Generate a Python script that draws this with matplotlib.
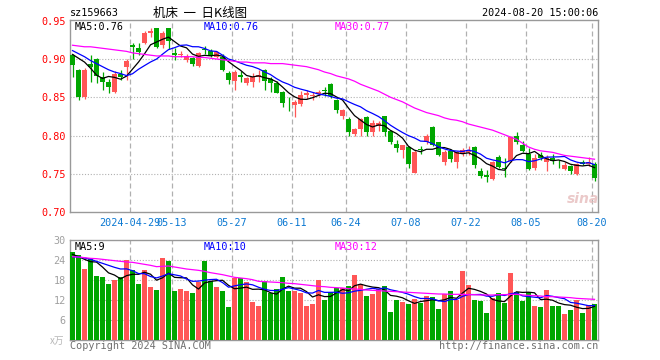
import matplotlib
matplotlib.use('Agg')
import matplotlib.pyplot as plt
import numpy as np
import pandas as pd

# ---------------- data ----------------
tick_idx = [10, 17, 27, 37, 46, 56, 66, 76, 87]
tick_labels = ['2024-04-29', '05-13', '05-27', '06-11', '06-24', '07-08', '07-22', '08-05', '08-20']

opens = [0.905, 0.885, 0.850, 0.893, 0.900, 0.877, 0.870, 0.857, 0.880, 0.890,
         0.918, 0.915, 0.921, 0.934, 0.940, 0.918, 0.940, 0.908, 0.905, 0.899,
         0.901, 0.891, 0.913, 0.911, 0.903, 0.903, 0.882, 0.8715, 0.879, 0.869,
         0.870, 0.876, 0.886, 0.874, 0.869, 0.857, 0.843, 0.840, 0.841, 0.853,
         0.851, 0.854, 0.860, 0.867, 0.847, 0.825, 0.821, 0.802, 0.809, 0.824,
         0.804, 0.813, 0.825, 0.806, 0.789, 0.781, 0.785, 0.751, 0.783, 0.791,
         0.811, 0.791, 0.765, 0.780, 0.765, 0.776, 0.778, 0.785, 0.753, 0.748,
         0.743, 0.772, 0.758, 0.767, 0.800, 0.788, 0.776, 0.757, 0.775, 0.765,
         0.771, 0.762, 0.756, 0.760, 0.750, 0.765, 0.763, 0.763]
highs = [0.907, 0.887, 0.888, 0.905, 0.901, 0.883, 0.874, 0.884, 0.885, 0.900,
         0.921, 0.921, 0.936, 0.941, 0.941, 0.936, 0.941, 0.914, 0.911, 0.906,
         0.902, 0.909, 0.917, 0.913, 0.911, 0.906, 0.884, 0.885, 0.884, 0.877,
         0.882, 0.886, 0.887, 0.876, 0.871, 0.858, 0.850, 0.846, 0.858, 0.859,
         0.857, 0.860, 0.864, 0.868, 0.848, 0.835, 0.824, 0.810, 0.823, 0.826,
         0.820, 0.819, 0.826, 0.807, 0.794, 0.788, 0.786, 0.781, 0.786, 0.802,
         0.812, 0.792, 0.781, 0.783, 0.780, 0.784, 0.786, 0.786, 0.757, 0.755,
         0.767, 0.774, 0.770, 0.800, 0.804, 0.793, 0.784, 0.776, 0.778, 0.774,
         0.776, 0.768, 0.765, 0.762, 0.764, 0.768, 0.772, 0.765]
lows = [0.877, 0.847, 0.848, 0.870, 0.868, 0.860, 0.856, 0.855, 0.872, 0.873,
        0.900, 0.905, 0.919, 0.929, 0.914, 0.915, 0.913, 0.899, 0.902, 0.896,
        0.891, 0.889, 0.907, 0.902, 0.901, 0.884, 0.867, 0.859, 0.870, 0.866,
        0.864, 0.870, 0.860, 0.857, 0.855, 0.837, 0.832, 0.824, 0.838, 0.848,
        0.846, 0.852, 0.852, 0.849, 0.830, 0.822, 0.800, 0.799, 0.799, 0.800,
        0.800, 0.806, 0.800, 0.789, 0.779, 0.770, 0.758, 0.751, 0.776, 0.789,
        0.786, 0.773, 0.762, 0.766, 0.758, 0.773, 0.775, 0.757, 0.745, 0.739,
        0.742, 0.757, 0.746, 0.766, 0.789, 0.778, 0.755, 0.755, 0.768, 0.753,
        0.763, 0.757, 0.755, 0.750, 0.748, 0.762, 0.760, 0.741]
closes = [0.892, 0.850, 0.886, 0.889, 0.878, 0.870, 0.863, 0.880, 0.877, 0.898,
          0.916, 0.909, 0.934, 0.936, 0.916, 0.934, 0.923, 0.905, 0.907, 0.904,
          0.893, 0.908, 0.912, 0.904, 0.909, 0.8855, 0.872, 0.883, 0.877, 0.875,
          0.876, 0.879, 0.871, 0.869, 0.856, 0.842, 0.842, 0.844, 0.853, 0.855,
          0.853, 0.857, 0.858, 0.851, 0.833, 0.833, 0.804, 0.809, 0.822, 0.804,
          0.817, 0.817, 0.804, 0.791, 0.784, 0.787, 0.763, 0.779, 0.781, 0.800,
          0.787, 0.775, 0.778, 0.769, 0.778, 0.781, 0.781, 0.761, 0.747, 0.746,
          0.765, 0.759, 0.756, 0.798, 0.791, 0.780, 0.756, 0.771, 0.771, 0.770,
          0.767, 0.761, 0.761, 0.753, 0.763, 0.763, 0.766, 0.745]
volumes = [26.4, 25.5, 21.3, 24.5, 19.2, 18.9, 16.8, 18.0, 18.8, 24.0,
           21.0, 16.8, 21.0, 15.9, 15.0, 24.6, 23.8, 14.7, 15.3, 14.8,
           14.1, 17.5, 23.8, 17.7, 15.9, 14.7, 9.9, 18.7, 18.6, 17.4,
           11.4, 10.2, 17.7, 14.2, 15.3, 18.9, 14.7, 14.7, 14.1, 10.2,
           10.8, 18.0, 12.0, 14.3, 15.7, 15.7, 16.2, 19.5, 16.7, 13.2,
           13.8, 15.3, 16.2, 8.4, 12.0, 11.4, 10.8, 12.3, 11.2, 13.2,
           12.9, 9.3, 13.7, 14.7, 12.0, 20.7, 16.5, 12.0, 11.7, 8.1,
           12.6, 14.1, 11.1, 20.1, 14.4, 11.7, 14.4, 10.2, 9.9, 15.0,
           10.2, 10.2, 7.8, 9.0, 12.0, 8.1, 10.5, 10.8]
ma30_price = [0.918, 0.917, 0.916, 0.916, 0.915, 0.914, 0.913, 0.912, 0.911, 0.910,
              0.908, 0.907, 0.906, 0.905, 0.904, 0.904, 0.904, 0.903, 0.903, 0.903,
              0.903, 0.902, 0.902, 0.901, 0.900, 0.899, 0.898, 0.897, 0.896, 0.896,
              0.895, 0.895, 0.895, 0.894, 0.894, 0.894, 0.893, 0.892, 0.891, 0.890,
              0.888, 0.886, 0.883, 0.881, 0.878, 0.876, 0.874, 0.871, 0.867, 0.864,
              0.861, 0.858, 0.854, 0.850, 0.847, 0.844, 0.840, 0.836, 0.833, 0.830,
              0.828, 0.826, 0.823, 0.821, 0.820, 0.818, 0.815, 0.813, 0.811, 0.809,
              0.807, 0.804, 0.801, 0.798, 0.795, 0.790, 0.785, 0.782, 0.780, 0.779,
              0.778, 0.776, 0.774, 0.773, 0.772, 0.771, 0.770, 0.769]
ma30_vol = [25.0, 24.9, 24.7, 24.5, 24.4, 24.2, 24.0, 23.8, 23.6, 23.4,
            23.3, 23.0, 22.7, 22.4, 22.0, 22.1, 22.2, 21.9, 21.6, 21.3,
            21.1, 20.9, 20.6, 20.2, 19.9, 19.6, 19.2, 18.8, 18.6, 18.4,
            18.1, 17.6, 17.5, 17.4, 17.3, 17.2, 17.0, 16.9, 16.7, 16.5,
            16.3, 16.1, 16.0, 15.8, 15.7, 15.6, 15.4, 15.3, 15.2, 15.0,
            14.9, 14.8, 14.7, 14.6, 14.5, 14.4, 14.3, 14.2, 14.1, 14.0,
            13.9, 13.8, 13.8, 13.7, 13.7, 13.7, 13.6, 13.6, 13.5, 13.5,
            13.5, 13.6, 13.6, 13.7, 13.7, 13.5, 13.4, 13.3, 13.2, 13.0,
            13.0, 12.9, 12.8, 12.7, 12.5, 12.4, 12.3, 12.2]
# moving-average values before the window fills
ma5_price_head = [0.906, 0.901, 0.896, 0.888]
ma10_price_head = [0.911, 0.907, 0.903, 0.898, 0.894, 0.890, 0.886, 0.883, 0.881]
ma5_vol_head = [25.7, 25.0, 24.2, 23.5]
ma10_vol_head = [25.0, 24.9, 24.6, 24.2, 23.6, 23.0, 22.4, 21.8, 21.3]

# ---------------- helpers ----------------
def moving_avg(values, n, head):
    s = pd.Series(values, dtype=float).rolling(n).mean().values
    s[:len(head)] = head
    return s

W, H = 660, 360
MONO = 'DejaVu Sans Mono'
CJK = ['Noto Sans CJK SC', 'DejaVu Sans']
RED = '#ff5656'
GREEN = '#00a600'
GRID = '#b0b0b0'
FRAME = '#999999'

fig = plt.figure(figsize=(W / 100, H / 100), dpi=100)
fig.patch.set_facecolor('white')

def px_axes(x0, y0, x1, y1):
    return fig.add_axes([x0 / W, 1 - y1 / H, (x1 - x0) / W, (y1 - y0) / H])

ax1 = px_axes(70, 20, 598, 212)
ax2 = px_axes(70, 240, 598, 340)

x = np.arange(len(closes))
o = np.array(opens); c = np.array(closes)
hi = np.array(highs); lo = np.array(lows)
up = c >= o
colors = np.where(up, RED, GREEN)
XL = (-0.42, len(closes) - 0.42)

# ---------------- price panel ----------------
ax1.vlines(x, lo, hi, colors=colors, linewidth=0.9, zorder=3)
body_bottom = np.minimum(o, c)
body_h = np.maximum(np.abs(c - o), 0.0009)
ax1.bar(x, body_h, bottom=body_bottom, width=0.8, color=colors, linewidth=0, zorder=4)

ma5p = moving_avg(closes, 5, ma5_price_head)
ma10p = moving_avg(closes, 10, ma10_price_head)
ax1.plot(x, ma5p, color='black', linewidth=0.9, zorder=5)
ax1.plot(x, ma10p, color='#0000ff', linewidth=0.9, zorder=5)
ax1.plot(x, ma30_price, color='#ff00ff', linewidth=0.9, zorder=5)

ax1.set_xlim(*XL)
ax1.set_ylim(0.70, 0.951)
for yv in [0.75, 0.80, 0.85, 0.90]:
    ax1.axhline(yv, color=GRID, linewidth=0.8, linestyle=(0, (1, 1.6)), zorder=1)
for ti in tick_idx:
    ax1.axvline(ti - 0.42, color=GRID, linewidth=0.9, linestyle=(0, (4, 2.4)), zorder=1)

ax1.set_yticks([0.70, 0.75, 0.80, 0.85, 0.90, 0.95])
ax1.set_yticklabels(['%.2f' % v for v in [0.70, 0.75, 0.80, 0.85, 0.90, 0.95]],
                    color='#ff0000', fontfamily=MONO, fontsize=7.3)
ax1.set_xticks([t - 0.42 for t in tick_idx])
ax1.set_xticklabels(tick_labels, color='#0a78d2', fontfamily=MONO, fontsize=7.3)
ax1.tick_params(axis='both', length=0)
ax1.tick_params(axis='y', pad=3)
ax1.tick_params(axis='x', pad=4)

# ---------------- volume panel ----------------
ax2.bar(x, volumes, width=0.82, color=colors, linewidth=0, zorder=3)
ma5v = moving_avg(volumes, 5, ma5_vol_head)
ma10v = moving_avg(volumes, 10, ma10_vol_head)
ax2.plot(x, ma5v, color='black', linewidth=0.9, zorder=5)
ax2.plot(x, ma10v, color='#0000ff', linewidth=0.9, zorder=5)
ax2.plot(x, ma30_vol, color='#ff00ff', linewidth=0.9, zorder=5)
ax2.set_xlim(*XL)
ax2.set_ylim(0, 30)
for yv in [6, 12, 18, 24]:
    ax2.axhline(yv, color=GRID, linewidth=0.8, linestyle=(0, (1, 1.6)), zorder=1)
for ti in tick_idx:
    ax2.axvline(ti - 0.42, color=GRID, linewidth=0.9, linestyle=(0, (4, 2.4)), zorder=1)
ax2.set_yticks([6, 12, 18, 24, 30])
ax2.set_yticklabels(['6', '12', '18', '24', '30'], color='#a0a0a0', fontfamily=MONO, fontsize=7.3)
ax2.set_xticks([])
ax2.tick_params(axis='both', length=0)
ax2.tick_params(axis='y', pad=3)

for ax in (ax1, ax2):
    for sp in ax.spines.values():
        sp.set_color(FRAME)
        sp.set_linewidth(1.0)

# ---------------- texts ----------------
def ftext(px, py, s, **kw):
    fig.text(px / W, 1 - py / H, s, **kw)

ftext(70, 13, 'sz159663', fontfamily=MONO, fontsize=7.3, color='black', va='center', ha='left')
ftext(200, 13, '机床  一  日K线图', fontfamily=CJK, fontsize=9, color='black', va='center', ha='center')
ftext(598, 13, '2024-08-20 15:00:06', fontfamily=MONO, fontsize=7.3, color='black', va='center', ha='right')

ftext(75, 26.5, 'MA5:0.76', fontfamily=MONO, fontsize=7.3, color='black', va='center')
ftext(204, 26.5, 'MA10:0.76', fontfamily=MONO, fontsize=7.3, color='#0000ff', va='center')
ftext(335, 26.5, 'MA30:0.77', fontfamily=MONO, fontsize=7.3, color='#ff00ff', va='center')

ftext(75, 246.5, 'MA5:9', fontfamily=MONO, fontsize=7.3, color='black', va='center')
ftext(204, 246.5, 'MA10:10', fontfamily=MONO, fontsize=7.3, color='#0000ff', va='center')
ftext(335, 246.5, 'MA30:12', fontfamily=MONO, fontsize=7.3, color='#ff00ff', va='center')

ftext(64, 341, 'x万', fontfamily=CJK, fontsize=7, color='#b8b8b8', va='center', ha='right',
      style='italic')
ftext(70, 346, 'Copyright 2024 SINA.COM', fontfamily=MONO, fontsize=7.3, color='#707070', va='center')
ftext(598, 346, 'http://finance.sina.com.cn', fontfamily=MONO, fontsize=7.3, color='#707070',
      va='center', ha='right')

ftext(583, 199, 'sina', fontfamily='DejaVu Sans', fontsize=10, fontweight='bold', style='italic',
      color='#e6bcbc', alpha=0.8, va='center', ha='center', zorder=2)

fig.savefig('out.png', dpi=100, facecolor='white')
